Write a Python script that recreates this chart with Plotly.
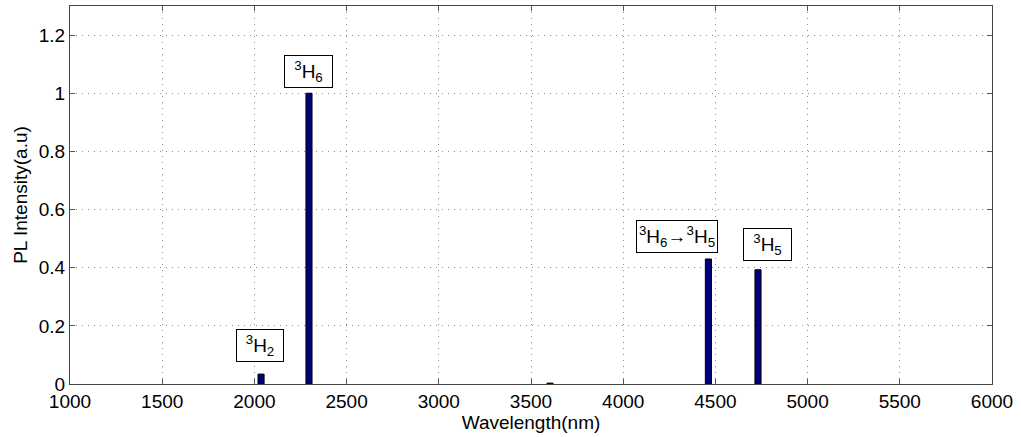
import plotly.graph_objects as go

wavelengths = [2036, 2296, 3603, 4462, 4731]
intensities = [0.034, 1.0, 0.003, 0.43, 0.393]
bar_width_nm = 33

label_texts = ["<sup>3</sup>H<sub>2</sub>", "<sup>3</sup>H<sub>6</sub>",
               "<sup>3</sup>H<sub>6</sub>→<sup>3</sup>H<sub>5</sub>", "<sup>3</sup>H<sub>5</sub>"]
label_x = [2033, 2291, 4292, 4780]
label_y = [0.131, 1.076, 0.507, 0.479]
label_box_w = [44, 45, 78, 45]   # style: box widths in px

x_ticks = [1000, 1500, 2000, 2500, 3000, 3500, 4000, 4500, 5000, 5500, 6000]
y_ticks = [0, 0.2, 0.4, 0.6, 0.8, 1.0, 1.2]
y_tick_text = ["0", "0.2", "0.4", "0.6", "0.8", "1", "1.2"]

FONT = "Liberation Sans, Arial, Helvetica"

fig = go.Figure()
fig.add_trace(go.Bar(x=wavelengths, y=intensities, width=bar_width_nm,
                     marker=dict(color="#00007f", line=dict(color="black", width=1))))

for t, x, y, w in zip(label_texts, label_x, label_y, label_box_w):
    fig.add_annotation(x=x, y=y, xref="x", yref="y", text=t, showarrow=False,
                       width=w, height=29, align="center", valign="middle",
                       bgcolor="white", bordercolor="black", borderwidth=1, borderpad=1,
                       font=dict(family=FONT, size=19, color="black"))

axis_common = dict(showline=True, linecolor="#444444", linewidth=1, mirror="ticks",
                   ticks="inside", ticklen=5, tickcolor="#555555",
                   showgrid=True, gridcolor="#8c8c8c", griddash="1px,5px", gridwidth=1,
                   zeroline=False,
                   tickfont=dict(family=FONT, size=19, color="black"),
                   title_font=dict(family=FONT, size=19, color="black"))

fig.update_xaxes(range=[1000, 6000], tickvals=x_ticks, title_text="Wavelength(nm)",
                 title_standoff=0, **axis_common)
fig.update_yaxes(range=[0, 1.3], tickvals=y_ticks, ticktext=y_tick_text,
                 title_text="PL Intensity(a.u)", title_standoff=6, **axis_common)

fig.update_layout(width=1021, height=437, margin=dict(l=70, r=29, t=6, b=53),
                  plot_bgcolor="white", paper_bgcolor="white", showlegend=False)

fig.write_html("out.html", config={"displayModeBar": False},
               post_script="document.body.style.margin='0';")
